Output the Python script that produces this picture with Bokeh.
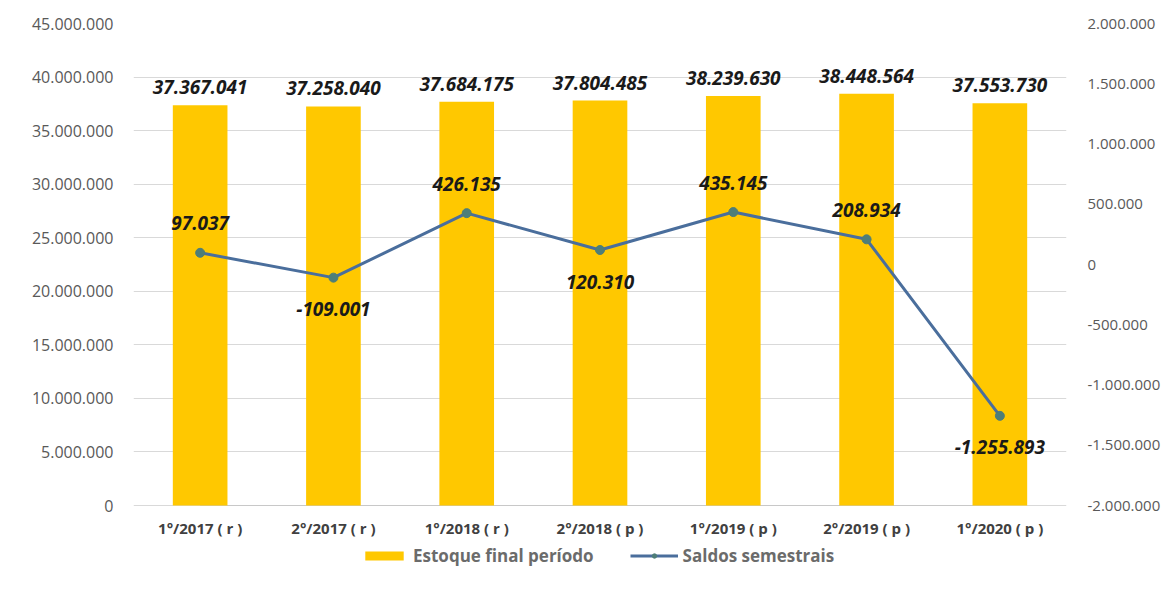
from bokeh.plotting import figure
from bokeh.models import (ColumnDataSource, FactorRange, Range1d, LinearAxis, FixedTicker,
                          CustomJSTickFormatter, Legend, LegendItem)
from bokeh.core.properties import value
from bokeh.embed import file_html
from bokeh.resources import INLINE

categories = ["1°/2017 ( r )", "2°/2017 ( r )", "1°/2018 ( r )", "2°/2018 ( p )",
              "1°/2019 ( p )", "2°/2019 ( p )", "1°/2020 ( p )"]
estoque = [37367041, 37258040, 37684175, 37804485, 38239630, 38448564, 37553730]
saldos = [97037, -109001, 426135, 120310, 435145, 208934, -1255893]

left_ticks = list(range(0, 45000001, 5000000))
right_ticks = list(range(-2000000, 2000001, 500000))

# label placement for the line (layout only)
line_label_dy = [-30, 31, -29, 32, -29, -29, 31]


def fmt(v):
    s = "{:,}".format(abs(int(v))).replace(",", ".")
    return ("-" if v < 0 else "") + s


# layout (pixels)
W, H = 1168, 590
TOP, ZERO = 23, 505          # pixel rows of the axis maxima and of the axis minima
px_per_left = (45000000 - 0) / (ZERO - TOP)
px_per_right = (2000000 - (-2000000)) / (ZERO - TOP)
extra = H - ZERO             # room below the axis for category labels and the legend
left_lo = 0 - extra * px_per_left
right_lo = -2000000 - extra * px_per_right

p = figure(x_range=FactorRange(*categories, range_padding=0), y_range=Range1d(left_lo, 45000000),
           width=W, height=H, output_backend="svg", toolbar_location=None,
           min_border_left=133, min_border_right=102, min_border_top=TOP, min_border_bottom=0)
p.extra_y_ranges = {"right": Range1d(right_lo, 2000000)}

dot_fmt = CustomJSTickFormatter(code="""
var s = Math.abs(Math.round(tick)).toString().replace(/\\B(?=(\\d{3})+(?!\\d))/g, '.');
return (tick < 0 ? '-' : '') + s;
""")

p.outline_line_color = None
p.xaxis.visible = False
p.xgrid.grid_line_color = None
p.ygrid.grid_line_color = "#d9d9d9"
p.ygrid.grid_line_width = 1
p.yaxis.ticker = FixedTicker(ticks=left_ticks)
p.yaxis.formatter = dot_fmt

right = LinearAxis(y_range_name="right", ticker=FixedTicker(ticks=right_ticks), formatter=dot_fmt)
p.add_layout(right, "right")

for ax in [p.yaxis[0], right]:
    ax.axis_line_color = None
    ax.major_tick_line_color = None
    ax.minor_tick_line_color = None
    ax.major_label_text_font = "Open Sans"
    ax.major_label_text_color = "#595959"
p.yaxis[0].major_label_text_font_size = "16px"
right.major_label_text_font_size = "15px"
p.yaxis[0].major_label_standoff = 14
right.major_label_standoff = 15

src = ColumnDataSource(dict(cat=categories, estoque=estoque, saldos=saldos,
                            zero=[0] * len(categories),
                            elab=[fmt(v) for v in estoque], slab=[fmt(v) for v in saldos],
                            dy=line_label_dy))

# baseline
p.segment(x0=[categories[0]], x1=[categories[-1]], y0=[0], y1=[0], line_color="#c8c8c8",
          line_width=1)
bars = p.vbar(x="cat", top="estoque", width=0.41, source=src, color="#FFC800", line_color=None)
line = p.line(x="cat", y="saldos", source=src, y_range_name="right", line_color="#4A6E9C", line_width=3)
pts = p.scatter(x="cat", y="saldos", source=src, y_range_name="right", size=9,
                fill_color="#4E7E78", line_color="#4E7E78")

p.text(x="cat", y="estoque", text="elab", source=src, text_align="center", text_baseline="alphabetic",
       y_offset=-18, text_font=value("Open Sans"), text_font_style="bold italic",
       text_font_size="19px", text_color="#1a1a1a")
p.text(x="cat", y="saldos", text="slab", source=src, y_range_name="right", text_align="center",
       text_baseline="middle", y_offset="dy", text_font=value("Open Sans"),
       text_font_style="bold italic", text_font_size="19px", text_color="#1a1a1a")
# category labels
p.text(x="cat", y="zero", text="cat", source=src, text_align="center", text_baseline="middle",
       y_offset=22, text_font=value("Open Sans"), text_font_style="bold",
       text_font_size="15px", text_color="#404040")

legend = Legend(items=[LegendItem(label="Estoque final período", renderers=[bars]),
                       LegendItem(label="Saldos semestrais", renderers=[line, pts])],
                orientation="horizontal", location=(227, 23),
                glyph_width=48, glyph_height=11, label_text_font="Open Sans",
                label_text_font_style="bold",
                label_text_font_size="17px", label_text_color="#6b6b6b",
                label_standoff=5, spacing=36, padding=2, margin=0,
                border_line_color=None, background_fill_alpha=0)
p.add_layout(legend)

open("out.html", "w").write(file_html(p, INLINE))
